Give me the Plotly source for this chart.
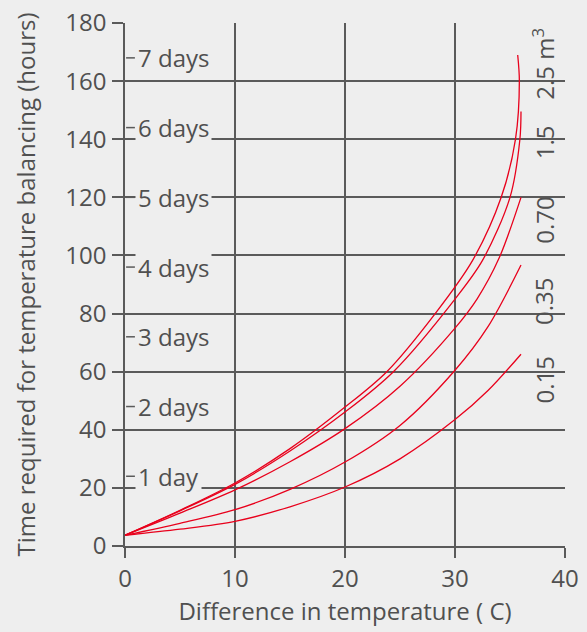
import plotly.graph_objects as go

# ---- data ----
vol_labels = ["0.15", "0.35", "0.70", "1.5", "2.5 m<sup>3</sup>"]
vol_label_y = [57, 84, 112, 139, 166]

x_015 = [0, 5, 10, 15, 20, 25, 30, 33, 36]
y_015 = [3.7, 5.8, 8.5, 13.5, 20.3, 30, 43.5, 53.5, 66]

x_035 = [0, 5, 10, 15, 20, 25, 30, 33, 36]
y_035 = [3.7, 7.8, 12.5, 19.5, 28.9, 41.5, 60.5, 75.5, 96.7]

x_070 = [0, 5, 10, 15, 20, 25, 30, 32, 34, 36]
y_070 = [3.7, 11.3, 19.3, 29, 40.4, 55, 75, 85, 99, 120]

x_15 = [0, 5, 10, 15, 20, 24.4, 30, 32.5, 35.0, 35.9, 36.0]
y_15 = [3.7, 12.1, 21.2, 32.7, 46.1, 60, 85, 98.3, 120, 140, 149.5]

x_25 = [0, 5, 10, 15, 20, 23.8, 28.2, 31.6, 34.2, 35.5, 35.85, 35.7]
y_25 = [3.7, 12.3, 21.7, 33.5, 47.8, 60, 80, 98.3, 120, 140, 160, 169]

day_labels = ["1 day", "2 days", "3 days", "4 days", "5 days", "6 days", "7 days"]
day_hours = [24, 48, 72, 96, 120, 144, 168]

x_ticks = [0, 10, 20, 30, 40]
y_ticks = [0, 20, 40, 60, 80, 100, 120, 140, 160, 180]

# ---- styling ----
BG = "#eeeeee"
GRID = "#5a5a5a"
TXT = "#505050"
RED = "#e8001c"
FONT = "Open Sans"
FS = 24

fig = go.Figure()
for xs, ys in [(x_015, y_015), (x_035, y_035), (x_070, y_070), (x_15, y_15), (x_25, y_25)]:
    fig.add_trace(go.Scatter(x=xs, y=ys, mode="lines",
                             line=dict(color=RED, width=1.3, shape="spline", smoothing=0.9),
                             showlegend=False, hoverinfo="skip"))

# short day tick marks
tx, ty = [], []
for h in day_hours:
    tx += [0.1, 0.9, None]
    ty += [h, h, None]
fig.add_trace(go.Scatter(x=tx, y=ty, mode="lines", line=dict(color=GRID, width=1.5),
                         showlegend=False, hoverinfo="skip"))

for lab, h in zip(day_labels, day_hours):
    fig.add_annotation(x=0.95, y=h, xref="x", yref="y", text=lab, showarrow=False,
                       xanchor="left", yanchor="middle", bgcolor=BG, borderpad=2,
                       font=dict(family=FONT, size=FS, color=TXT))

for lab, yy in zip(vol_labels, vol_label_y):
    fig.add_annotation(x=38.1, y=yy, xref="x", yref="y", text=lab, showarrow=False,
                       textangle=-90, xanchor="center", yanchor="middle",
                       font=dict(family=FONT, size=FS, color=TXT))

fig.update_layout(
    width=587, height=632,
    paper_bgcolor=BG, plot_bgcolor=BG,
    margin=dict(l=125, r=22, t=23, b=86),
    font=dict(family=FONT, size=FS, color=TXT),
    showlegend=False,
)
fig.update_xaxes(range=[0, 40], tickvals=x_ticks, showgrid=True, gridcolor=GRID, gridwidth=1.5,
                 showline=True, linecolor=GRID, linewidth=1.5, zeroline=False,
                 ticks="outside", ticklen=10, tickwidth=1.5, tickcolor=GRID,
                 ticklabelstandoff=0, automargin=False,
                 title=dict(text="Difference in temperature ( C)", standoff=8,
                            font=dict(family=FONT, size=FS, color=TXT)))
fig.update_yaxes(range=[0, 180], tickvals=y_ticks, showgrid=True, gridcolor=GRID, gridwidth=1.5,
                 showline=True, linecolor=GRID, linewidth=1.5, zeroline=False,
                 ticks="outside", ticklen=11, tickwidth=1.5, tickcolor=GRID,
                 ticklabelstandoff=1, automargin=False,
                 title=dict(text="Time required for temperature balancing (hours)", standoff=23,
                            font=dict(family=FONT, size=FS, color=TXT)))

fig.write_html("out.html", config={"displayModeBar": False},
               post_script="document.body.style.margin='0px';document.body.style.overflow='hidden';")
